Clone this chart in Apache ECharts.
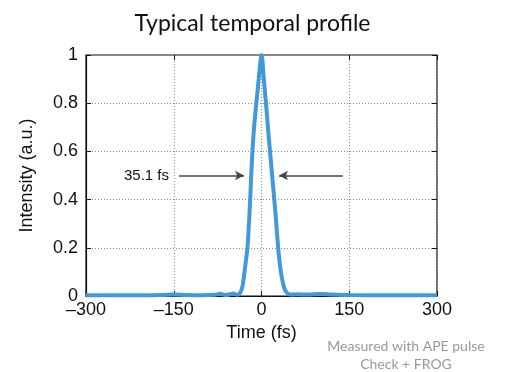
<!DOCTYPE html>
<html>
<head>
<meta charset="utf-8">
<script src="https://cdn.jsdelivr.net/npm/echarts@6/dist/echarts.min.js"></script>
<style>
  html, body { margin: 0; padding: 0; background: #fff; }
  #chart { width: 505px; height: 372px; }
</style>
</head>
<body>
<div id="chart"></div>
<script>
// pulse profile (time in fs, normalised intensity)
const timeFs = [-300, -250, -200, -170, -150, -130, -100, -80, -71, -62, -55, -48, -42,
  -37, -33, -30, -27, -24, -21, -19, -17, -14.5, -12, -8, -4, -1.5, 0,
  1.5, 4, 8, 12, 16, 20, 24, 28.5, 31.5, 34.5, 39, 44,
  50, 60, 80, 100, 120, 150, 200, 250, 300];
const intensity = [0.003, 0.003, 0.003, 0.004, 0.006, 0.004, 0.003, 0.005, 0.009, 0.004, 0.006, 0.01, 0.005,
  0.012, 0.035, 0.08, 0.14, 0.2, 0.32, 0.42, 0.53, 0.64, 0.72, 0.82, 0.92, 0.98, 1.0,
  0.98, 0.9, 0.79, 0.67, 0.56, 0.45, 0.34, 0.2, 0.13, 0.08, 0.032, 0.012,
  0.006, 0.007, 0.006, 0.008, 0.006, 0.004, 0.003, 0.003, 0.003];

const xTicks = [-300, -150, 0, 150, 300];
const yTicks = [0, 0.2, 0.4, 0.6, 0.8, 1];

// FWHM annotation
const fwhmText = '35.1 fs';
const fwhmLevel = 0.5;
const leftArrow = [-141, -30];
const rightArrow = [139, 30];

const chart = echarts.init(document.getElementById('chart'));

const axisFont = { fontFamily: 'Liberation Sans', fontSize: 18, color: '#111' };
const gridLine = { show: true, lineStyle: { color: '#8a8a8a', width: 1, type: [1, 2] } };
const inTick = { show: true, inside: true, length: 5, lineStyle: { color: '#111' } };

const option = {
  animation: false,
  title: {
    text: 'Typical temporal profile',
    left: 'center',
    top: 7,
    textStyle: { fontFamily: 'Lato', fontSize: 23, fontWeight: 'normal', color: '#111' },
  },
  graphic: [
    {
      type: 'text',
      x: 406,
      y: 337,
      style: {
        text: 'Measured with APE pulse\nCheck + FROG',
        align: 'center',
        fontFamily: 'Lato',
        fontSize: 14,
        lineHeight: 18,
        fill: '#999',
      },
    },
  ],
  grid: {
    left: 86,
    right: 68,
    top: 55,
    bottom: 76,
    show: true,
    borderColor: '#111',
    borderWidth: 1.2,
  },
  xAxis: [
    {
      type: 'value',
      min: -300,
      max: 300,
      interval: 150,
      name: 'Time (fs)',
      nameLocation: 'middle',
      nameGap: 27,
      nameTextStyle: axisFont,
      axisLine: { show: true, onZero: false, lineStyle: { color: '#111', width: 1.2 } },
      axisTick: inTick,
      axisLabel: {
        ...axisFont,
        margin: 5,
        formatter: v => (xTicks.includes(v) ? String(v).replace('-', '\u2013') : ''),
      },
      splitLine: gridLine,
    },
    {
      type: 'value',
      position: 'top',
      min: -300,
      max: 300,
      interval: 150,
      axisLine: { show: false, onZero: false },
      axisTick: inTick,
      axisLabel: { show: false },
      splitLine: { show: false },
    },
  ],
  yAxis: [
    {
      type: 'value',
      min: 0,
      max: 1,
      interval: 0.2,
      name: 'Intensity (a.u.)',
      nameLocation: 'middle',
      nameGap: 50,
      nameTextStyle: axisFont,
      axisLine: { show: true, onZero: false, lineStyle: { color: '#111', width: 1.2 } },
      axisTick: inTick,
      axisLabel: {
        ...axisFont,
        margin: 8,
        formatter: v => (yTicks.includes(+v.toFixed(1)) ? (v === 0 ? '0' : v === 1 ? '1' : v.toFixed(1)) : ''),
      },
      splitLine: gridLine,
    },
    {
      type: 'value',
      position: 'right',
      min: 0,
      max: 1,
      interval: 0.2,
      axisLine: { show: false, onZero: false },
      axisTick: inTick,
      axisLabel: { show: false },
      splitLine: { show: false },
    },
  ],
  series: [
    {
      type: 'line',
      data: timeFs.map((t, i) => [t, intensity[i]]),
      showSymbol: false,
      smooth: 0.3,
      clip: false,
      lineStyle: { color: '#4199dc', width: 4 },
      markLine: {
        silent: true,
        symbol: ['none', 'arrow'],
        symbolSize: [7, 9],
        lineStyle: { color: '#444', width: 1.5, type: 'solid' },
        label: { show: false },
        data: [
          [
            {
              coord: [leftArrow[0], fwhmLevel],
              label: {
                show: true,
                position: 'start',
                formatter: fwhmText,
                fontFamily: 'Liberation Sans',
                fontSize: 15,
                color: '#111',
                distance: 10,
              },
            },
            { coord: [leftArrow[1], fwhmLevel] },
          ],
          [
            { coord: [rightArrow[0], fwhmLevel] },
            { coord: [rightArrow[1], fwhmLevel] },
          ],
        ],
      },
    },
  ],
};

chart.setOption(option);
</script>
</body>
</html>
